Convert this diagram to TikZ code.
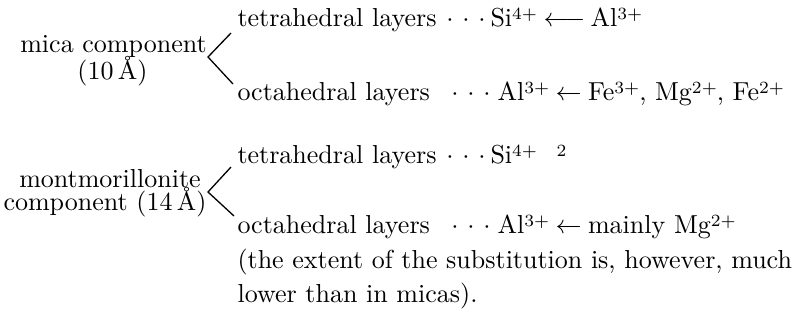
\documentclass[tikz,border=0pt]{standalone}
\newcommand{\chg}[1]{\raisebox{0.62ex}{\fontsize{6.6}{7}\selectfont #1}}
\begin{document}
\begin{tikzpicture}[x=0.3846pt,y=-0.3846pt,
  txt/.style={inner sep=0pt, anchor=base west},
  ctr/.style={inner sep=0pt, anchor=base},
  dotn/.style={inner sep=0pt, anchor=base},
  brace/.style={line width=0.5pt}]
\useasboundingbox (0,0) rectangle (798,322);

% left labels
\node[ctr] (mica1) at (113.5,52) {mica component};
\node[ctr] (mica2) at (112.5,79) {(10\,\AA)};
\node[ctr] (mont1) at (110,187) {montmorillonite};
\node[ctr] (mont2) at (105,210) {component (14\,\AA)};

% branching lines
\coordinate (ma) at (208,57);
\coordinate (mt) at (231,33);
\coordinate (mb) at (233,84);
\coordinate (na) at (208,192);
\coordinate (nt) at (231,167);
\coordinate (nb) at (234,216);
\draw[brace] (mt) -- (ma) -- (mb);
\draw[brace] (nt) -- (na) -- (nb);

% line 1
\node[txt] (l1) at (237,26) {tetrahedral layers};
\node[dotn] (l1a) at (450,26) {$\cdot$};
\node[dotn] (l1b) at (466,26) {$\cdot$};
\node[dotn] (l1c) at (482,26) {$\cdot$};
\node[txt] (l1f) at (490,26) {Si\chg{4+}\hspace{0.25em}$\longleftarrow$\hspace{0.2em}Al\chg{3+}};

% line 2
\node[txt] (l2) at (237,100) {octahedral layers};
\node[dotn] (l2a) at (455,100) {$\cdot$};
\node[dotn] (l2b) at (471,100) {$\cdot$};
\node[dotn] (l2c) at (487,100) {$\cdot$};
\node[txt] (l2f) at (497,100) {Al\chg{3+}\hspace{0.25em}$\leftarrow$\hspace{0.25em}Fe\chg{3+}, Mg\chg{2+}, Fe\chg{2+}};

% line 3
\node[txt] (l3) at (237,163) {tetrahedral layers};
\node[dotn] (l3a) at (450,163) {$\cdot$};
\node[dotn] (l3b) at (466,163) {$\cdot$};
\node[dotn] (l3c) at (482,163) {$\cdot$};
\node[txt] (l3f) at (490,163) {Si\chg{4+}\hspace{0.75em}\chg{2}};

% line 4
\node[txt] (l4) at (237,233) {octahedral layers};
\node[dotn] (l4a) at (455,233) {$\cdot$};
\node[dotn] (l4b) at (471,233) {$\cdot$};
\node[dotn] (l4c) at (487,233) {$\cdot$};
\node[txt] (l4f) at (497,233) {Al\chg{3+}\hspace{0.25em}$\leftarrow$\hspace{0.25em}mainly Mg\chg{2+}};

% note
\node[txt] (n1) at (237,268) {(the extent of the substitution is, however, much};
\node[txt] (n2) at (237,302) {lower than in micas).};
\end{tikzpicture}
\end{document}
